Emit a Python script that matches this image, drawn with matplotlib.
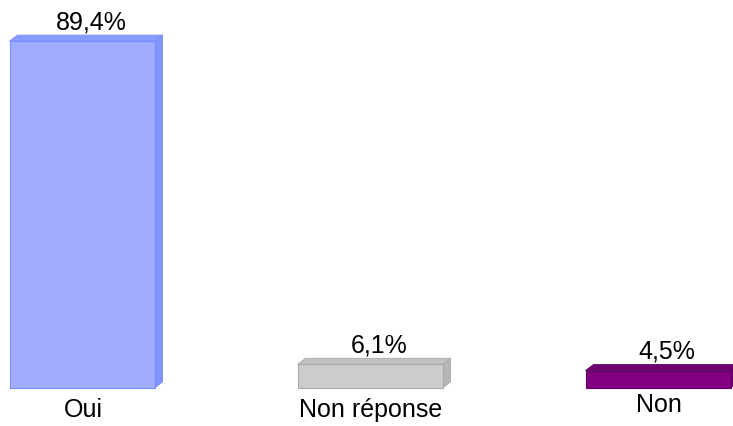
import matplotlib
matplotlib.use("Agg")
import matplotlib.pyplot as plt
from matplotlib.patches import Polygon

categories = ["Oui", "Non réponse", "Non"]
values = [89.4, 6.1, 4.5]
value_labels = ["89,4%", "6,1%", "4,5%"]

front_colors = ["#a0adff", "#cccccc", "#800080"]
side_colors = ["#8494ff", "#b6b6b6", "#6a006a"]
top_colors = ["#8a9bff", "#c2c2c2", "#700070"]
edge_colors = ["#7c8cff", "#a8a8a8", "#5e005e"]

plt.rcParams["font.family"] = ["Liberation Sans", "DejaVu Sans"]

W, H, DPI = 733, 426, 100
fig = plt.figure(figsize=(W / DPI, H / DPI), dpi=DPI)
ax = fig.add_axes([0, 0, 1, 1])

# pixel geometry: category spacing 288 px, first center at 82 px; baseline at 388 px from top
px_per_x = 288.0
px_per_y = 3.88
x0_px = 82.0
base_px = 388.0
ax.set_xlim(-x0_px / px_per_x, (W - x0_px) / px_per_x)
ax.set_ylim(-(H - base_px) / px_per_y, base_px / px_per_y)
ax.axis("off")

width = 145.0 / px_per_x
dx = 8.0 / px_per_x
dy = 6.0 / px_per_y

xs = list(range(len(categories)))
bars = ax.bar(xs, values, width=width, color=front_colors,
              edgecolor=edge_colors, linewidth=0.8, zorder=3)

for i, (bar, v) in enumerate(zip(bars, values)):
    left = bar.get_x()
    right = left + bar.get_width()
    side = Polygon([(right, 0), (right + dx, dy), (right + dx, v + dy), (right, v)],
                   closed=True, facecolor=side_colors[i], edgecolor=edge_colors[i],
                   linewidth=0.6, zorder=2)
    top = Polygon([(left, v), (left + dx, v + dy), (right + dx, v + dy), (right, v)],
                  closed=True, facecolor=top_colors[i], edgecolor=edge_colors[i],
                  linewidth=0.6, zorder=4)
    ax.add_patch(side)
    ax.add_patch(top)
    ax.text(xs[i] + 9.0 / px_per_x, v + dy + 6.0 / px_per_y, value_labels[i],
            ha="center", va="baseline", fontsize=18, color="black")

# category label baselines, in pixels from the top
label_baselines_px = [417.0, 417.0, 412.0]
for x, name, bl in zip(xs, categories, label_baselines_px):
    ax.text(x + 1.0 / px_per_x, -(bl - base_px) / px_per_y, name,
            ha="center", va="baseline", fontsize=18, color="black")

fig.savefig("out.png", dpi=DPI)
